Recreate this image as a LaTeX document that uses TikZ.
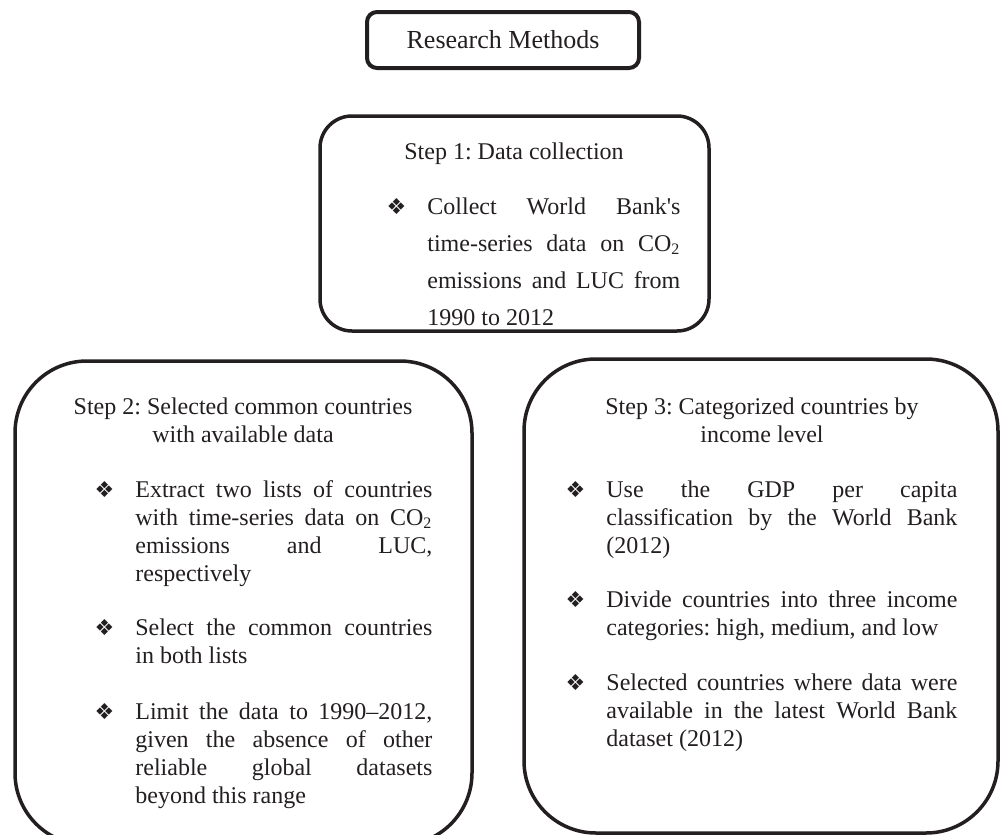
\documentclass[tikz,border=0pt]{standalone}
\usepackage{fontspec}
\setmainfont{Liberation Serif}
\newfontfamily\symfont{DejaVu Sans}
\frenchspacing
\tolerance=10000
\hbadness=10000
\definecolor{ink}{RGB}{35,31,32}
\newcommand{\dia}{\leavevmode\llap{{\symfont\fontsize{11}{11}\selectfont ❖}\hspace{10.5pt}}}

\begin{document}
\begin{tikzpicture}[x=0.5pt,y=-0.5pt,
  box/.style={draw=ink, line width=1.75pt, inner sep=0pt},
  title/.style={anchor=base, align=center, text=ink, font=\fontsize{12}{14}\selectfont},
  item/.style={anchor=base west, inner sep=0pt, align=justify, text=ink, font=\fontsize{12}{14}\selectfont}]
\useasboundingbox (0,0) rectangle (1001,835);
\clip (0,0) rectangle (1001,835);

\node [box, line width=2pt, rounded corners=5pt, minimum width=136pt, minimum height=28pt, text=ink, font=\fontsize{13}{15}\selectfont] (methods) at (503,40) {Research Methods};

\node [box, rounded corners=16pt, minimum width=194.5pt, minimum height=107.5pt] (step1) at (514.5,223.5) {};
\node [title] (t1) at (514,159) {Step 1: Data collection};
\node [item, text width=126.5pt, font=\fontsize{12}{18.5}\selectfont] (collect) at (427,214) {\dia Collect World Bank\textquotesingle s\linebreak time-series data on CO\textsubscript{2}\linebreak emissions and LUC from\linebreak 1990 to 2012};

\node [box, rounded corners=36pt, minimum width=228.5pt, minimum height=242pt] (step2) at (243.5,603) {};
\node [title] (t2) at (243,442) {Step 2: Selected common countries\\with available data};
\node [item, text width=148.5pt] (extract) at (135,497) {\dia Extract two lists of countries\linebreak with time-series data on CO\textsubscript{2}\linebreak emissions and LUC,\linebreak respectively};
\node [item, text width=148.5pt] (select) at (135,635) {\dia Select the common countries\linebreak in both lists};
\node [item, text width=148.5pt] (limit) at (135,719) {\dia Limit the data to 1990--2012,\linebreak given the absence of other\linebreak reliable global datasets\linebreak beyond this range};

\node [box, rounded corners=36pt, minimum width=237pt, minimum height=237pt] (step3) at (761,596) {};
\node [title] (t3) at (762,442) {Step 3: Categorized countries by\\income level};
\node [item, text width=175.5pt] (gdp) at (606,497) {\dia Use the GDP per capita\linebreak classification by the World Bank\linebreak (2012)};
\node [item, text width=175.5pt] (divide) at (606,607) {\dia Divide countries into three income\linebreak categories: high, medium, and low};
\node [item, text width=175.5pt] (latest) at (606,690) {\dia Selected countries where data were\linebreak available in the latest World Bank\linebreak dataset (2012)};
\end{tikzpicture}
\end{document}
